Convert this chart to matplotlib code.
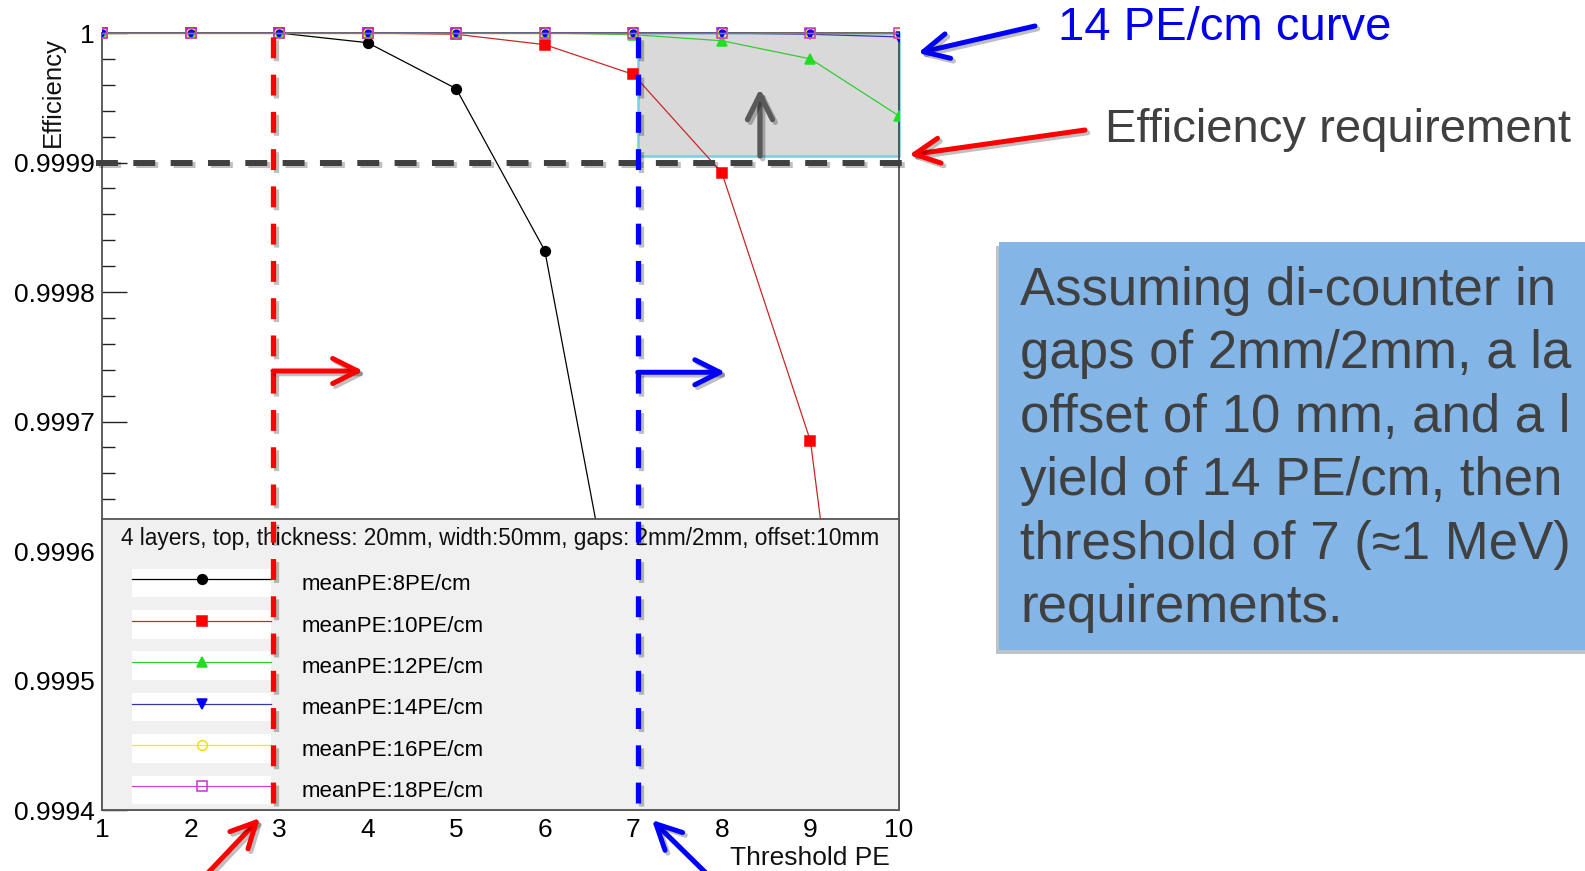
import matplotlib
matplotlib.use("Agg")
import matplotlib.pyplot as plt
import matplotlib.patheffects as pe
from matplotlib.lines import Line2D
from matplotlib.patches import Rectangle, FancyArrowPatch
from matplotlib.legend_handler import HandlerTuple
from matplotlib.ticker import MultipleLocator

plt.rcParams['font.family'] = ['Liberation Sans', 'DejaVu Sans']

# ---- data ----
thresholds = [1, 2, 3, 4, 5, 6, 7, 8, 9, 10]
eff_8pe = [1.0, 1.0, 1.0, 0.9999925, 0.999957, 0.999832, 0.99947]
eff_10pe = [1.0, 1.0, 1.0, 1.0, 0.999999, 0.999991, 0.999968, 0.999892, 0.999685, 0.99915]
eff_12pe = [1.0, 1.0, 1.0, 1.0, 1.0, 1.0, 0.9999987, 0.999994, 0.99998, 0.999936]
eff_14pe = [1.0, 1.0, 1.0, 1.0, 1.0, 1.0, 1.0, 1.0, 0.999999, 0.999997]
eff_16pe = [1.0, 1.0, 1.0, 1.0, 1.0, 1.0, 1.0, 1.0, 1.0, 1.0]
eff_18pe = [1.0, 1.0, 1.0, 1.0, 1.0, 1.0, 1.0, 1.0, 1.0, 1.0]
series_labels = ['meanPE:8PE/cm', 'meanPE:10PE/cm', 'meanPE:12PE/cm',
                 'meanPE:14PE/cm', 'meanPE:16PE/cm', 'meanPE:18PE/cm']

ytick_vals = [0.9994, 0.9995, 0.9996, 0.9997, 0.9998, 0.9999, 1.0]
ytick_labels = ['0.9994', '0.9995', '0.9996', '0.9997', '0.9998', '0.9999', '1']

eff_requirement = 0.9999
low_cut = 2.93     # hand drawn red line (near 3)
chosen_cut = 7.05  # hand drawn blue line (near 7)

legend_header = '4 layers, top, thickness: 20mm, width:50mm, gaps: 2mm/2mm, offset:10mm'
# the slide cuts this box off at its right edge; only the part that shows is kept
box_lines = ['Assuming di-counter in', 'gaps of 2mm/2mm, a la',
             'offset of 10 mm, and a l', 'yield of 14 PE/cm, then',
             'threshold of 7 (\u22481 MeV)', 'requirements.']

# ---- styles ----
styles = [
    dict(color='#000000', marker='o', ms=7, mfc='#000000', mec='#000000'),
    dict(color='#c62828', marker='s', ms=6.5, mfc='#ff0000', mec='#ff0000'),
    dict(color='#33cc33', marker='^', ms=6.5, mfc='#22dd22', mec='#22dd22'),
    dict(color='#3535b0', marker='v', ms=6.5, mfc='#0000ff', mec='#0000ff'),
    dict(color='#f0f000', marker='o', ms=7, mfc='none', mec='#f0e000'),
    dict(color='#cc44cc', marker='s', ms=7, mfc='none', mec='#cc33cc'),
]

W, H = 1585, 871
fig = plt.figure(figsize=(W / 100, H / 100), dpi=100)


def fx(x):
    return x / W


def fy(y):
    return 1 - y / H


ax = fig.add_axes([fx(102), fy(810), fx(899) - fx(102), fy(33) - fy(810)])
ax.set_xlim(1, 10)
ax.set_ylim(0.9994, 1.0)

# let markers sitting on y=1 show in full, but keep the clip at the bottom
clip = Rectangle((0, 0), 1, 1.04, transform=ax.transAxes)
all_series = [eff_8pe, eff_10pe, eff_12pe, eff_14pe, eff_16pe, eff_18pe]
handles = []
for ys, st in zip(all_series, styles):
    ln, = ax.plot(thresholds[:len(ys)], ys, lw=0.9, mew=1.1, zorder=3, **st)
    ln.set_clip_path(clip)
    white = Rectangle((0, 0), 1, 1, facecolor='white', edgecolor='none')
    handles.append((white, Line2D([], [], lw=0.9, mew=1.1, **st)))

# ticks / frame
ax.set_yticks(ytick_vals, ytick_labels)
ax.yaxis.set_minor_locator(MultipleLocator(0.00002))
ax.set_xticks(thresholds, [str(t) for t in thresholds])
ax.tick_params(axis='y', which='major', direction='in', length=18, width=1,
               pad=5, labelsize=19, color='#222222')
ax.tick_params(axis='y', which='minor', direction='in', length=9.5, width=1,
               color='#222222')
ax.tick_params(axis='x', which='both', length=0, pad=6, labelsize=19)
for s in ax.spines.values():
    s.set_color('#444444')
    s.set_linewidth(1.2)

# legend panel
leg_h = (810 - 519) / 777
ax.add_patch(Rectangle((0, 0), 1, leg_h, transform=ax.transAxes,
                       facecolor='#f0f0f0', edgecolor='#555555', lw=1.3,
                       zorder=4, clip_on=False))
ax.text(0.5, (810 - 538) / 777, legend_header, transform=ax.transAxes,
        ha='center', va='center', fontsize=16.3, color='#111111', zorder=5)
leg = ax.legend(handles, series_labels,
                handler_map={tuple: HandlerTuple(ndivide=1, pad=0)},
                loc='upper left', bbox_to_anchor=((132 - 102) / 797, (810 - 568.5) / 777),
                frameon=False, borderpad=0, borderaxespad=0, fontsize=16,
                handlelength=6.26, handleheight=1.6, labelspacing=0.58,
                handletextpad=1.35)
leg.set_zorder(5)

# gray "allowed" region
ax.add_patch(Rectangle((chosen_cut, 0.999905), 10 - chosen_cut, 1.0 - 0.999905,
                       facecolor='#d9d9d9', edgecolor='#7ccde6', lw=1.8,
                       zorder=1.5, clip_on=False))

shadow = [pe.SimpleLineShadow(offset=(2, -2), alpha=0.25), pe.Normal()]

# requirement line and threshold lines
ax.axhline(eff_requirement, xmin=-0.007, xmax=1.004, color='#404040', lw=4.3,
           dashes=(3.67, 2.58), solid_capstyle='butt', zorder=5.5, clip_on=False,
           path_effects=shadow)
for xc, col in [(low_cut, '#ff0000'), (chosen_cut, '#0000ff')]:
    ax.axvline(xc, ymin=(810 - 803) / 777, ymax=1.0, color=col, lw=3.8,
               dashes=(3.96, 3.1), zorder=6, clip_on=False, path_effects=shadow)


def arrow(p0, p1, color, transform, lw=3.6):
    a = FancyArrowPatch(p0, p1, arrowstyle='->,head_length=1.8,head_width=0.9',
                        mutation_scale=10, color=color, lw=lw, capstyle='round',
                        joinstyle='round', transform=transform, shrinkA=0,
                        shrinkB=0, zorder=7, clip_on=False)
    a.set_path_effects(shadow)
    return a


ax.add_patch(arrow((low_cut, 0.999739), (3.95, 0.999739), '#ff0000', ax.transData))
ax.add_patch(arrow((chosen_cut, 0.999738), (8.04, 0.999738), '#0000ff', ax.transData))
ax.add_patch(arrow((8.43, 0.999905), (8.43, 0.999957), '#595959', ax.transData, lw=3.8))

# figure level annotations
fig.add_artist(arrow((fx(1035), fy(26)), (fx(918), fy(53)), '#0000ff', fig.transFigure))
fig.add_artist(arrow((fx(1085), fy(130)), (fx(909), fy(155)), '#ff0000', fig.transFigure))
fig.add_artist(arrow((fx(205), fy(876)), (fx(260), fy(818)), '#ff0000', fig.transFigure))
fig.add_artist(arrow((fx(709), fy(876)), (fx(652), fy(820)), '#0000ff', fig.transFigure))

fig.text(fx(1058), fy(28), '14 PE/cm curve', ha='left', va='center',
         fontsize=34, color='#0000ee')
fig.text(fx(1105), fy(130), 'Efficiency requirement', ha='left', va='center',
         fontsize=34, color='#404040')

box = Rectangle((fx(999), fy(650)), fx(1600) - fx(999), fy(242) - fy(650),
                transform=fig.transFigure, facecolor='#83b5e6', edgecolor='none',
                zorder=1)
box.set_path_effects([pe.withSimplePatchShadow(offset=(-2, -3), alpha=0.3)])
fig.add_artist(box)
for i, line in enumerate(box_lines):
    fig.text(fx(1020), fy(305 + i * 63.4), line, ha='left', va='baseline',
             fontsize=38, color='#404040', zorder=2)

fig.text(fx(53), fy(37), 'Efficiency', rotation=90, ha='center', va='top',
         fontsize=18.5, color='#111111')
fig.text(fx(890), fy(858), 'Threshold PE', ha='right', va='center',
         fontsize=19, color='#111111')

fig.savefig('out.png', dpi=100)
